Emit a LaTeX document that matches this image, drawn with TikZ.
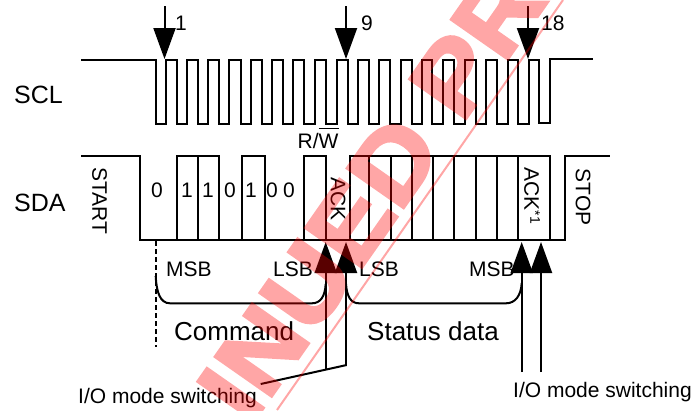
\documentclass[tikz,border=0pt]{standalone}
\usepackage{fontspec}
\usepackage{graphicx}
\setmainfont{Liberation Sans}
\newfontfamily\wmfont[BoldFeatures={FakeBold=3}]{Liberation Sans}
\usetikzlibrary{arrows.meta}
\newcommand{\fs}[1]{\fontsize{#1}{#1}\selectfont}
\definecolor{wmred}{RGB}{255,0,0}
\tikzset{
  wave/.style={line width=2pt,line join=miter,line cap=butt},
  probe/.style={line width=2pt,-{Triangle[length=31pt,width=22pt]}},
  txtlabel/.style={inner sep=0pt,anchor=base west,font=\fs{21}},
  biglabel/.style={inner sep=0pt,anchor=base west,font=\fs{26}},
  sigmane/.style={inner sep=0pt,anchor=base west,font=\fs{25}},
  digit/.style={inner sep=0pt,font=\fs{21}},
  vlabel/.style={inner sep=0pt,font=\fs{21},rotate=-90},
  brace/.style={line width=2pt},
  wmtext/.style={text=wmred,inner sep=0pt,anchor=base west,rotate=55,font=\wmfont\fs{100}\bfseries},
}
\begin{document}
\begin{tikzpicture}[x=1pt,y=-1pt]
\useasboundingbox (0,0) rectangle (693,410);
\fill[white] (0,0) rectangle (693,410);
% SCL
\draw[wave] (81,60) -- (155.7,60) -- (155.7,124)
 -- (166,124) -- (166,60) -- (177.3,60) -- (177.3,124)
 -- (187.3,124) -- (187.3,60) -- (198.3,60) -- (198.3,124)
 -- (208.3,124) -- (208.3,60) -- (219.3,60) -- (219.3,124)
 -- (229.3,124) -- (229.3,60) -- (240.7,60) -- (240.7,124)
 -- (250.7,124) -- (250.7,60) -- (261.7,60) -- (261.7,124)
 -- (272,124) -- (272,60) -- (283.3,60) -- (283.3,124)
 -- (293.3,124) -- (293.3,60) -- (304.3,60) -- (304.3,124)
 -- (315,124) -- (315,60) -- (325.7,60) -- (325.7,124)
 -- (337.3,124) -- (337.3,60) -- (347.7,60) -- (347.7,124)
 -- (358.3,124) -- (358.3,60) -- (369,60) -- (369,124)
 -- (379.3,124) -- (379.3,60) -- (390,60) -- (390,124)
 -- (400.7,124) -- (400.7,60) -- (411.7,60) -- (411.7,124)
 -- (422.3,124) -- (422.3,60) -- (432.3,60) -- (432.3,124)
 -- (443.3,124) -- (443.3,60) -- (454.3,60) -- (454.3,124)
 -- (465,124) -- (465,60) -- (475.7,60) -- (475.7,124)
 -- (486,124) -- (486,60) -- (496.7,60) -- (496.7,124)
 -- (507.7,124) -- (507.7,60) -- (518.3,60) -- (518.3,124)
 -- (529,124) -- (529,60) -- (539.3,60) -- (539.3,123)
 -- (550,123) -- (550,59) -- (593,59);
% clock arrows
\coordinate (a1s) at (164.5,6); \coordinate (a1e) at (164.5,59);
\coordinate (a9s) at (346,6); \coordinate (a9e) at (346,59);
\coordinate (a18s) at (528,6); \coordinate (a18e) at (528,59);
\draw[probe] (a1s) -- (a1e);
\draw[probe] (a9s) -- (a9e);
\draw[probe] (a18s) -- (a18e);
\node[txtlabel] (n1) at (175,30) {1};
\node[txtlabel] (n9) at (361,30) {9};
\node[txtlabel] (n18) at (541,30) {18};
% signal names
\node[sigmane] (scl) at (14,103) {SCL};
\node[sigmane] (sda) at (14,211) {SDA};
% SDA
\draw[wave] (81,155.5) -- (140,155.5) -- (140,240) -- (565,240) -- (565,156) -- (610,156);
\draw[wave] (177,240) -- (177,155.5) -- (219,155.5) -- (219,240);
\draw[wave] (198,155.5) -- (198,240);
\draw[wave] (241.7,240) -- (241.7,156) -- (264.7,156) -- (264.7,240);
\draw[wave] (304.3,240) -- (304.3,155.5) -- (326,155.5) -- (326,240);
\draw[wave] (350,240) -- (350,155.5) -- (549.5,155.5) -- (549.5,240);
\foreach \x in {369.3,390.5,411.7,432.5,454,475.5,496.7,518}
  \draw[wave] (\x,155.5) -- (\x,240);
% SDA texts
\node[vlabel] (start) at (99.5,201) {START};
\node[vlabel] (stop) at (583,197) {STOP};
\node[vlabel] (ack) at (338,199) {ACK};
\node[vlabel] (ackb) at (532,196) {ACK\raisebox{6pt}{\fs{14}*1}};
\node[digit] (b0) at (157,190) {0};
\node[digit] (b1) at (187,190) {1};
\node[digit] (b2) at (208,190) {1};
\node[digit] (b3) at (230,190) {0};
\node[digit] (b4) at (251,190) {1};
\node[digit] (b5) at (272,190) {0};
\node[digit] (b6) at (289,190) {0};
\node[txtlabel] (rw) at (297.5,148.7) {R/\rlap{\raisebox{19.5pt}{\rule{20.5pt}{1.4pt}}}W};
% dashed
\coordinate (d1) at (155.7,241); \coordinate (d2) at (155.7,347);
\draw[line width=2pt,dash pattern=on 5pt off 3pt] (d1) -- (d2);
% MSB / LSB
\node[txtlabel] (m1) at (166,276.7) {MSB};
\node[txtlabel] (l1) at (273,276.7) {LSB};
\node[txtlabel] (l2) at (359,276.7) {LSB};
\node[txtlabel] (m2) at (469,276.7) {MSB};
% braces
\draw[brace] (155.7,276) .. controls (156.5,292) and (160,303.3) .. (170,303.3) -- (312,303.3) .. controls (320,303.3) and (325,297) .. (325.7,284);
\draw[brace] (346,284) .. controls (347,297) and (351,303.3) .. (359,303.3) -- (506,303.3) .. controls (515,303.3) and (521,296) .. (521.7,283);
\node[biglabel] (cmd) at (174,340.5) {Command};
\node[biglabel] (stat) at (367,340.5) {Status data};
% IO arrows
\coordinate (u1s) at (325.7,369); \coordinate (u1e) at (325.7,242);
\coordinate (u2s) at (346,366); \coordinate (u2e) at (346,242);
\coordinate (u3s) at (521.7,372); \coordinate (u3e) at (521.7,242);
\coordinate (u4s) at (541,372); \coordinate (u4e) at (541,242);
\draw[probe] (u1s) -- (u1e);
\draw[probe] (u2s) -- (u2e);
\draw[probe] (u3s) -- (u3e);
\draw[probe] (u4s) -- (u4e);
\coordinate (p1) at (260.7,384); \coordinate (p2) at (346.7,365);
\draw[line width=2pt] (p1) -- (p2);
\node[txtlabel] (io1) at (78,403) {I/O mode switching};
\node[txtlabel] (io2) at (513,397.7) {I/O mode switching};
% watermark
\begin{scope}
\clip (0,0) rectangle (693,410);
\coordinate (w1) at (277,410); \coordinate (w2) at (563,0);
\draw[wmred,opacity=.35,line width=2pt] (w1) -- (w2);
\begin{scope}[transparency group,opacity=.35]
\node[wmtext] (wm) at (250,427) {\scalebox{1.09}[1]{INUED PR}};
\end{scope}
\end{scope}
\end{tikzpicture}
\end{document}
